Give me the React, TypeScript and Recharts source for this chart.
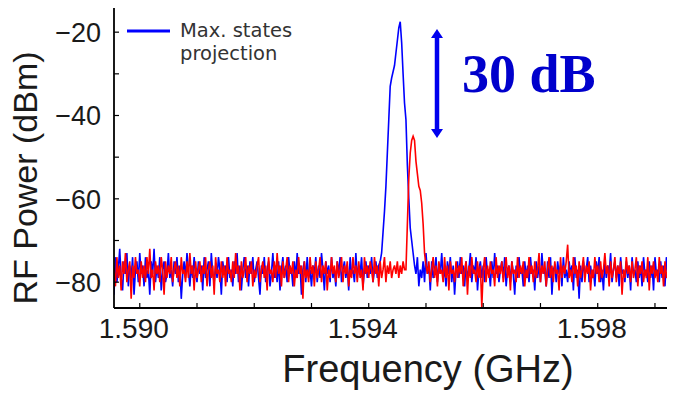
import { LineChart, Line, XAxis, YAxis, Legend, Label } from "recharts";

// Frequency grid of the spectrum analyser sweep (GHz)
const FREQ_START = 1.58955;
const FREQ_STEP = 0.000025;

// Max. states projection (blue), dBm
const BLUE = [
  -83, -74, -80, -77, -72, -79, -82, -75, -78, -73, -81, -76, -79, -74, -83, -77, -75, -80, -73, -78,
  -76, -81, -74, -79, -77, -83, -75, -78, -72, -80, -76, -79, -74, -82, -77, -75, -80, -78, -73, -79,
  -77, -81, -75, -78, -74, -80, -76, -84, -78, -75, -79, -73, -77, -81, -76, -79, -74, -78, -80, -75,
  -78, -76, -82, -74, -79, -77, -75, -81, -73, -78, -80, -76, -79, -74, -77, -83, -75, -78, -76, -80,
  -74, -79, -77, -81, -75, -78, -73, -80, -76, -82, -77, -74, -79, -76, -81, -75, -78, -74, -80, -77,
  -75, -79, -83, -76, -78, -74, -80, -77, -75, -81, -78, -73, -79, -76, -80, -75, -82, -77, -74, -79,
  -76, -80, -74, -78, -77, -81, -75, -79, -73, -78, -76, -83, -77, -75, -80, -74, -79, -77, -81, -76,
  -78, -74, -80, -76, -79, -73, -77, -82, -75, -78, -76, -80, -74, -79, -77, -81, -75, -78, -74, -80,
  -77, -75, -79, -76, -82, -74, -78, -77, -80, -73, -79, -76, -78, -74, -81, -77, -75, -79, -76, -78,
  -74, -80, -77, -75, -79, -76,
  // peak
  -75, -73, -68, -63, -57, -49, -41, -33, -31, -29.5, -28, -25, -22, -19, -17.5, -22.5, -30, -37, -41,
  -52, -60, -67, -70, -73, -76,
  -78, -74, -81, -77, -79, -75, -80, -73, -78, -76, -82, -75, -79, -77, -74, -80, -76, -78, -73, -79,
  -77, -81, -75, -78, -74, -80, -76, -83, -77, -75, -79, -74, -78, -76, -81, -75, -79, -77, -73, -80,
  -76, -78, -74, -82, -77, -75, -79, -76, -80, -74, -78, -77, -81, -75, -79, -73, -78, -76, -80, -77,
  -75, -79, -74, -81, -77, -76, -80, -75, -78, -83, -76, -79, -74, -78, -77, -81, -75, -79, -76, -80,
  -74, -78, -77, -82, -75, -79, -76, -80, -73, -78, -77, -81, -75, -79, -74, -83, -77, -76, -80, -75,
  -78, -76, -81, -74, -79, -77, -80, -75, -78, -76, -82, -74, -79, -77, -84, -76, -80, -75, -78, -77,
  -74, -80, -76, -79, -77, -81, -75, -78, -74, -80, -77, -82, -75, -79, -76, -78, -73, -80, -77, -75,
  -79, -76, -81, -74, -78, -77, -80, -75, -79, -76, -82, -74, -78, -77, -80, -75, -79, -76, -81, -74,
  -78, -77, -80, -75, -79, -76, -82, -74, -78, -77, -80, -75, -79, -76, -81, -74, -78, -77, -80, -75,
  -79, -76,
];

// second trace (red), dBm
const RED = [
  -77, -81, -74, -79, -76, -82, -75, -78, -73, -80, -77, -75, -84, -76, -79, -74, -78, -77, -81, -75,
  -79, -76, -80, -74, -78, -72, -79, -77, -82, -75, -78, -76, -80, -74, -77, -83, -75, -79, -76, -78,
  -74, -80, -77, -75, -79, -76, -81, -74, -78, -77, -80, -75, -79, -73, -78, -76, -82, -75, -79, -77,
  -75, -80, -76, -78, -74, -81, -77, -75, -79, -76, -83, -74, -78, -77, -80, -75, -79, -76, -81, -74,
  -78, -77, -80, -75, -79, -73, -78, -76, -82, -75, -79, -77, -74, -80, -76, -78, -75, -81, -77, -79,
  -76, -74, -80, -77, -75, -79, -76, -82, -74, -78, -77, -80, -75, -79, -73, -78, -76, -81, -75, -79,
  -77, -74, -80, -76, -78, -75, -81, -77, -79, -74, -78, -76, -84, -75, -79, -77, -80, -74, -78, -76,
  -81, -75, -79, -77, -74, -80, -76, -78, -75, -82, -77, -79, -74, -78, -76, -80, -75, -79, -77, -74,
  -80, -76, -78, -75, -81, -77, -79, -74, -78, -76, -80, -75, -79, -77, -82, -74, -78, -76, -79, -75,
  -77, -80, -74, -78, -76, -81, -75, -79, -77, -74, -80, -76, -78, -75, -79, -77, -76, -78, -75, -79,
  -76, -78, -75, -77,
  // peak
  -77, -66, -55, -49, -46, -45, -46, -51, -54, -57, -58, -61, -66, -73, -76,
  -78, -75, -80, -77, -74, -79, -76, -81, -75, -78, -77, -80, -74, -79, -76, -82, -75, -78, -77, -80,
  -75, -79, -76, -78, -74, -81, -77, -75, -83, -76, -79, -74, -78, -77, -80, -75, -79, -76, -86, -77,
  -74, -80, -76, -79, -75, -78, -77, -81, -74, -79, -76, -78, -75, -80, -77, -74, -79, -76, -82, -75,
  -78, -77, -80, -74, -79, -76, -78, -75, -81, -77, -79, -74, -78, -76, -80, -75, -79, -77, -73, -80,
  -76, -78, -75, -81, -77, -74, -79, -76, -80, -75, -78, -77, -82, -74, -79, -76, -78, -75, -71, -79,
  -77, -80, -74, -78, -76, -81, -75, -79, -77, -74, -80, -76, -78, -75, -82, -77, -79, -74, -78, -76,
  -80, -75, -79, -77, -73, -78, -76, -81, -75, -79, -77, -74, -80, -76, -78, -75, -83, -77, -79, -74,
  -78, -76, -80, -75, -79, -77, -74, -81, -76, -78, -75, -80, -77, -79, -74, -82, -76, -78, -75, -79,
  -77, -80, -74, -78, -76, -81, -75, -79, -77, -83, -76, -78, -74, -80,
];

const X_TICKS = [1.59, 1.591, 1.592, 1.593, 1.594, 1.595, 1.596, 1.597, 1.598, 1.599];
const X_LABELED = [1.59, 1.594, 1.598];
const Y_TICKS = [-80, -70, -60, -50, -40, -30, -20];
const Y_LABELED = [-80, -60, -40, -20];
const X_DOMAIN = [1.58955, 1.59935];
const Y_DOMAIN = [-86.2, -14.2];

const data = BLUE.map((b, i) => ({
  f: +(FREQ_START + i * FREQ_STEP).toFixed(6),
  blue: b,
  red: RED[i],
}));

const SANS = '"Liberation Sans", Arial, sans-serif';
const TICK_LEN = 5;

const fmtMinus = (v: number) => (v < 0 ? "\u2212" + Math.abs(v) : String(v));

const BottomTick = ({ x, y, payload }: any) => {
  const v = payload.value;
  const show = X_LABELED.some((t) => Math.abs(t - v) < 1e-6);
  return (
    <g>
      <line x1={x} x2={x} y1={y} y2={y - TICK_LEN} stroke="#000" strokeWidth={1.2} />
      {show && (
        <text x={x - 6} y={y + 10} dy="0.71em" textAnchor="middle" fontSize={28} fontFamily={SANS} fill="#1a1a1a">
          {v.toFixed(3)}
        </text>
      )}
    </g>
  );
};

const TopTick = ({ x, y }: any) => (
  <line x1={x} x2={x} y1={y} y2={y + TICK_LEN} stroke="#000" strokeWidth={1.2} />
);

const LeftTick = ({ x, y, payload }: any) => {
  const v = payload.value;
  const show = Y_LABELED.includes(v);
  return (
    <g>
      <line x1={x} x2={x + TICK_LEN} y1={y} y2={y} stroke="#000" strokeWidth={1.2} />
      {show && (
        <text x={x - 13} y={y} dy="0.36em" textAnchor="end" fontSize={27} fontFamily={SANS} fill="#1a1a1a">
          {fmtMinus(v)}
        </text>
      )}
    </g>
  );
};

const RightTick = ({ x, y }: any) => (
  <line x1={x} x2={x - TICK_LEN} y1={y} y2={y} stroke="#000" strokeWidth={1.2} />
);

const LegendBox = () => (
  <svg width={180} height={60}>
    <line x1={9} x2={52} y1={16} y2={16} stroke="#0000ff" strokeWidth={3} />
    <text x={62} y={22} fontSize={19.5} fontFamily='"DejaVu Sans", sans-serif' fill="#333">
      Max. states
    </text>
    <text x={62} y={45} fontSize={19.5} fontFamily='"DejaVu Sans", sans-serif' fill="#333">
      projection
    </text>
  </svg>
);

export default function App() {
  return (
    <div style={{ position: "relative", margin: "-8px 0 0 -8px", width: 675, height: 396, overflow: "hidden", background: "#fff" }}>
      <LineChart width={680} height={396} data={data} margin={{ top: 8, right: 5, bottom: 0, left: 0 }}>
        <XAxis
          dataKey="f"
          type="number"
          domain={X_DOMAIN}
          allowDataOverflow
          ticks={X_TICKS}
          interval={0}
          height={88}
          tickSize={0}
          tickMargin={0}
          tickLine={false}
          tick={<BottomTick />}
          axisLine={{ stroke: "#000", strokeWidth: 1.8 }}
        >
          <Label
            content={() => (
              <text x={428} y={382} textAnchor="middle" fontSize={38} fontFamily={SANS} fill="#1a1a1a">
                Frequency (GHz)
              </text>
            )}
          />
        </XAxis>
        <XAxis
          xAxisId="top"
          orientation="top"
          dataKey="f"
          type="number"
          domain={X_DOMAIN}
          allowDataOverflow
          ticks={X_TICKS}
          interval={0}
          height={0}
          tickSize={0}
          tickMargin={0}
          tickLine={false}
          tick={<TopTick />}
          axisLine={{ stroke: "#000", strokeWidth: 1.8 }}
        />
        <YAxis
          type="number"
          domain={Y_DOMAIN}
          allowDataOverflow
          ticks={Y_TICKS}
          interval={0}
          width={114}
          tickSize={0}
          tickMargin={0}
          tickLine={false}
          tick={<LeftTick />}
          axisLine={{ stroke: "#000", strokeWidth: 1.8 }}
        >
          <Label
            content={() => (
              <text
                x={25}
                y={178}
                dy="0.36em"
                transform="rotate(-90 25 178)"
                textAnchor="middle"
                fontSize={34}
                fontFamily={SANS}
                fill="#1a1a1a"
              >
                RF Power (dBm)
              </text>
            )}
          />
        </YAxis>
        <YAxis
          yAxisId="right"
          orientation="right"
          type="number"
          domain={Y_DOMAIN}
          allowDataOverflow
          ticks={Y_TICKS}
          interval={0}
          width={0}
          tickSize={0}
          tickMargin={0}
          tickLine={false}
          tick={<RightTick />}
          axisLine={{ stroke: "#000", strokeWidth: 1.8 }}
        />
        <Legend
          layout="vertical"
          align="center"
          verticalAlign="middle"
          content={() => <LegendBox />}
          wrapperStyle={{ left: 118, top: 15, width: 180 }}
        />
        <Line
          dataKey="blue"
          name="Max. states projection"
          stroke="#0000ff"
          strokeWidth={1.6}
          dot={false}
          isAnimationActive={false}
        />
        <Line dataKey="red" name="Reference" stroke="#ff0000" strokeWidth={1.6} dot={false} isAnimationActive={false} />
      </LineChart>
      {/* 30 dB annotation */}
      <svg style={{ position: "absolute", left: 0, top: 0, pointerEvents: "none" }} width={675} height={396}>
        <line x1={437} x2={437} y1={36} y2={131} stroke="#0000ee" strokeWidth={4.5} />
        <polygon points="437,29 431,38 443,38" fill="#0000ee" />
        <polygon points="437,138 431,129 443,129" fill="#0000ee" />
        <text x={462} y={92} fontSize={54} fontWeight="bold" fontFamily='"Liberation Serif", "Times New Roman", serif' fill="#0000cc">
          30 dB
        </text>
      </svg>
    </div>
  );
}
